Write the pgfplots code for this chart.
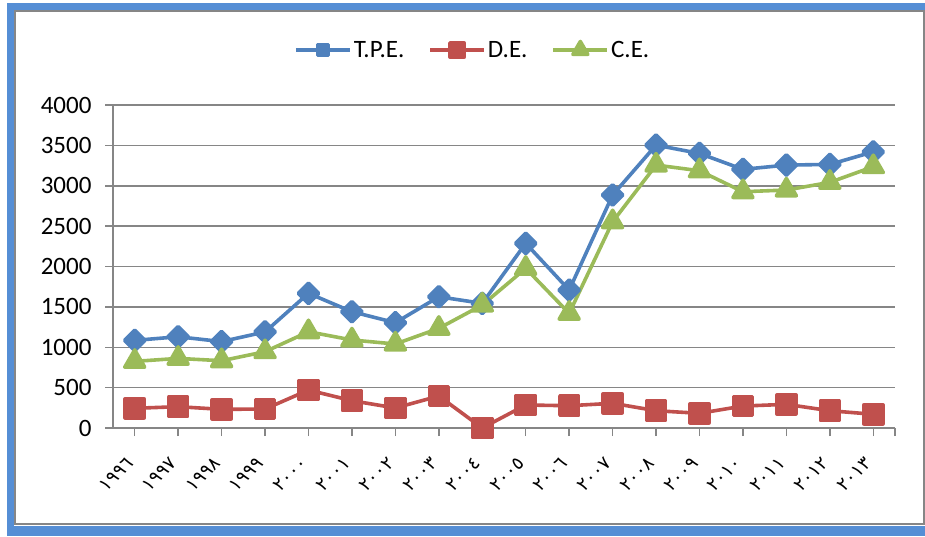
\documentclass[border=0pt]{standalone}
\usepackage{fontspec}
\setmainfont{Carlito}
\newfontfamily\arabicfont{DejaVu Sans}
\usepackage{pgfplots}
\pgfplotsset{compat=1.18}

\definecolor{tpeBlue}{HTML}{4F81BD}
\definecolor{deRed}{HTML}{C0504D}
\definecolor{ceGreen}{HTML}{9BBB59}
\definecolor{frameBlue}{HTML}{558ED5}
\definecolor{axGray}{HTML}{868686}

\pgfplotstableread{
yr  tpe   de   ce
0   1085  244  825
1   1130  264  862
2   1070  231  833
3   1190  235  945
4   1668  470  1192
5   1440  338  1090
6   1304  248  1040
7   1625  396  1234
8   1544  0    1523
9   2287  285  1977
10  1708  276  1420
11  2885  306  2554
12  3503  214  3256
13  3400  182  3186
14  3203  272  2926
15  3256  293  2947
16  3264  214  3042
17  3420  170  3236
}\expdata

\begin{document}
\begin{tikzpicture}
\path[use as bounding box] (0pt,0pt) rectangle (925pt,536pt);
% outer frame
\draw[axGray, line width=1.5pt] (15pt,12pt) rectangle (924pt,525pt);
\fill[frameBlue] (7pt,0pt) rectangle (14pt,533pt);
\fill[frameBlue] (7pt,526pt) rectangle (925pt,533pt);
\fill[frameBlue] (7pt,0pt) rectangle (925pt,10pt);

\begin{axis}[
    at={(113pt,108pt)}, anchor=south west,
    scale only axis, width=782pt, height=323pt,
    xmin=-0.5, xmax=17.5, ymin=0, ymax=4000,
    xtick={0,...,17},
    extra x ticks={17.5}, extra x tick labels={},
    xticklabels={١٩٩٦,١٩٩٧,١٩٩٨,١٩٩٩,٢٠٠٠,٢٠٠١,٢٠٠٢,٢٠٠٣,٢٠٠٤,%
      ٢٠٠٥,٢٠٠٦,٢٠٠٧,٢٠٠٨,٢٠٠٩,٢٠١٠,٢٠١١,٢٠١٢,٢٠١٣},
    xticklabel style={font=\arabicfont\fontsize{18.5}{22}\selectfont,
      yshift=-22pt, xshift=-2pt, rotate=45, anchor=east},
    ytick={0,500,...,4000},
    yticklabel style={font=\fontsize{25}{30}\selectfont, xshift=-10pt},
    /pgf/number format/assume math mode=true,
    /pgf/number format/set thousands separator={},
    axis x line*=bottom, axis y line*=left,
    axis line style={axGray, line width=1.5pt},
    tick style={axGray, line width=1.5pt},
    tick align=outside,
    major tick length=8pt,
    ymajorgrids, grid style={axGray, line width=1.5pt},
    every axis plot/.append style={line width=3.6pt, line join=round},
    legend style={at={(0.46,1.17)}, anchor=center, draw=none, fill=none,
      font=\fontsize{25}{30}\selectfont, legend columns=3,
      /tikz/every even column/.append style={column sep=22pt}},
    legend image code/.code={%
      \draw[mark repeat=2, mark phase=2, #1, mark options={scale=0.75}]
        plot coordinates {(0pt,0pt) (27pt,0pt) (54pt,0pt)};},
]
\addplot[tpeBlue, mark=square*, mark size=7.2pt, mark options={rotate=45}]
  table[x=yr, y=tpe] {\expdata};
\addlegendentry{T.P.E.}
\addplot[deRed, mark=square*, mark size=9.5pt]
  table[x=yr, y=de] {\expdata};
\addlegendentry{D.E.}
\addplot[ceGreen, mark=triangle*, mark size=11.5pt]
  table[x=yr, y=ce] {\expdata};
\addlegendentry{C.E.}
\end{axis}
\end{tikzpicture}
\end{document}
